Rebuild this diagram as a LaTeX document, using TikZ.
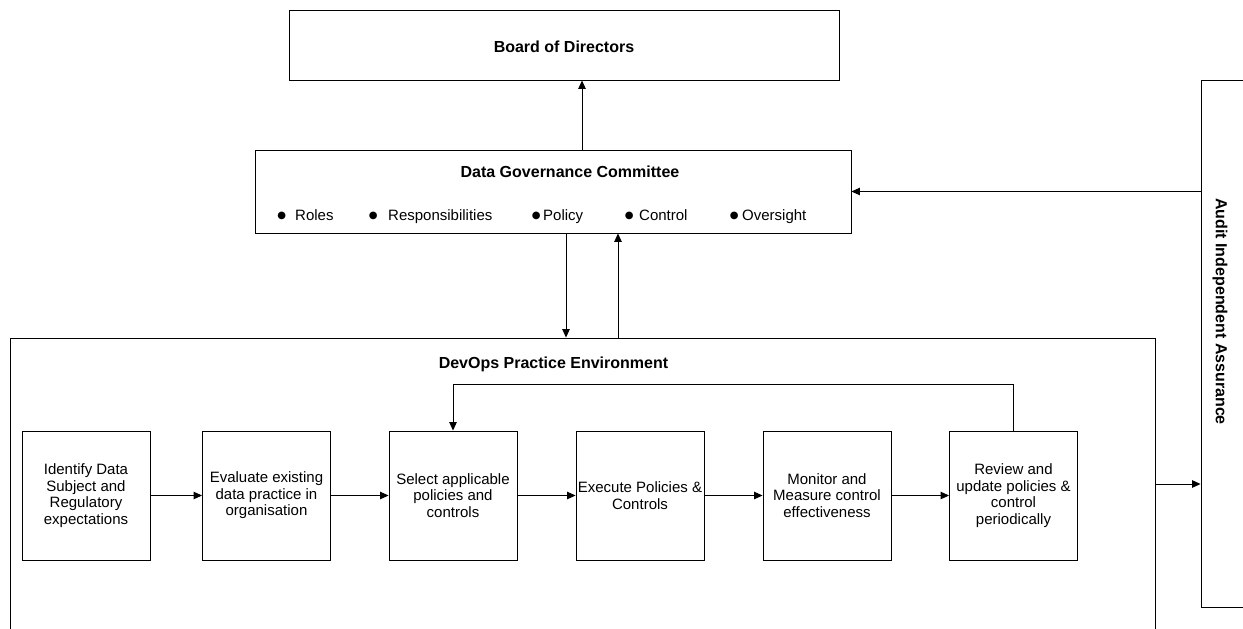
\documentclass[tikz,border=0pt]{standalone}
\usepackage{fontspec}
\setmainfont{Liberation Sans}
\newfontfamily\dotfont{DejaVu Sans}
\usetikzlibrary{arrows.meta}
\newcommand{\itemdot}[1]{\llap{\makebox[0pt]{\raisebox{1.5pt}{\dotfont\fontsize{10}{10}\selectfont ●}}\hspace{#1}}}
\begin{document}
\begin{tikzpicture}[x=1pt,y=-1pt,
  font=\fontsize{15}{16.5}\selectfont,
  frame/.style={draw, line width=0.9pt, inner sep=0pt},
  stepbox/.style={frame, minimum width=128pt, minimum height=129pt, align=center},
  title/.style={font=\fontsize{16}{18}\selectfont\bfseries},
  item/.style={anchor=base west, inner sep=0pt},
  arr/.style={-{Triangle[length=8.5pt,width=7.5pt]}, line width=0.9pt}]
\clip (0,0) rectangle (1243,629);
\fill[white] (0,0) rectangle (1243,629);

% top level
\node[frame, minimum width=550pt, minimum height=70pt] (board) at (564,45) {};
\node[title, anchor=base, inner sep=0pt] (boardtitle) at (564,52) {Board of Directors};

% committee with its responsibilities
\node[frame, minimum width=596pt, minimum height=83pt] (gov) at (553,191.5) {};
\node[title, anchor=base, inner sep=0pt] (govtitle) at (570,177) {Data Governance Committee};
\node[item] (i1) at (295,220) {\itemdot{13.5pt}Roles};
\node[item] (i2) at (388,220) {\itemdot{15pt}Responsibilities};
\node[item] (i3) at (543,220) {\itemdot{7pt}Policy};
\node[item] (i4) at (639,220) {\itemdot{10pt}Control};
\node[item] (i5) at (742,220) {\itemdot{8pt}Oversight};

% independent assurance
\node[frame, minimum width=69pt, minimum height=527pt] (audit) at (1235.5,343.5) {};
\node[title, rotate=-90, inner sep=0pt] (audittext) at (1220,311.5) {Audit Independent Assurance};

% DevOps environment
\node[frame, minimum width=1145pt, minimum height=320pt] (devops) at (582.5,498) {};
\node[title, anchor=base, inner sep=0pt] (devtitle) at (553.5,368.3) {DevOps Practice Environment};

% process steps
\node[stepbox] (p1) at (86,495.5) {Identify Data\\Subject and\\Regulatory\\expectations};
\node[stepbox] (p2) at (266.5,495.5) {Evaluate existing\\data practice in\\organisation};
\node[stepbox] (p3) at (453,495.5) {Select applicable\\policies and\\controls};
\node[stepbox] (p4) at (640,495.5) {Execute Policies \&\\Controls};
\node[stepbox] (p5) at (827,495.5) {Monitor and\\Measure control\\effectiveness};
\node[stepbox] (p6) at (1013.5,495.5) {Review and\\update policies \&\\control\\periodically};

% connectors
\coordinate (xb) at (582,0);
\coordinate (xd) at (566,0);
\coordinate (xu) at (618,0);
\coordinate (ya) at (0,484);
\draw[arr] (gov.north -| xb) -- (board.south -| xb);
\draw[arr] (gov.south -| xd) -- (devops.north -| xd);
\draw[arr] (devops.north -| xu) -- (gov.south -| xu);
\draw[arr] (gov.east -| audit.west) -- (gov.east);
\draw[arr] (devops.east |- ya) -- (audit.west |- ya);
\draw[arr] (p1) -- (p2);
\draw[arr] (p2) -- (p3);
\draw[arr] (p3) -- (p4);
\draw[arr] (p4) -- (p5);
\draw[arr] (p5) -- (p6);
\draw[arr] (p6.north) -- ++(0,-46) -| (p3.north);
\end{tikzpicture}
\end{document}
